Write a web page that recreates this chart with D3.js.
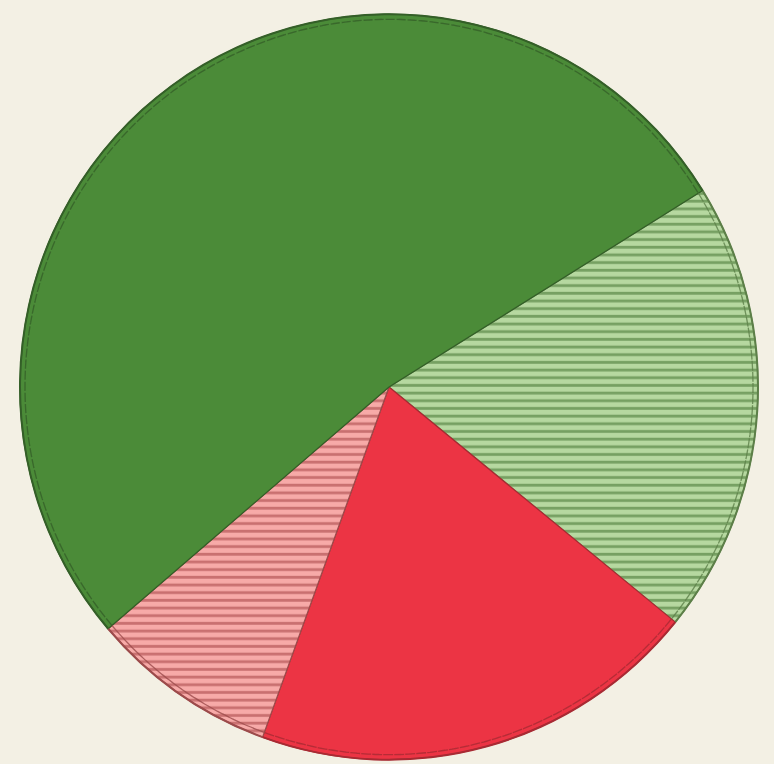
<!DOCTYPE html>
<html>
<head>
<meta charset="utf-8">
<script src="https://cdn.jsdelivr.net/npm/d3@7"></script>
<style>
  html, body { margin: 0; padding: 0; background: #f3f0e4; }
  svg { display: block; }
</style>
</head>
<body>
<svg id="chart" width="774" height="764"></svg>
<script>
// Data (order clockwise starting from the upper-right boundary)
const categories = ["Segment A", "Segment B", "Segment C", "Segment D"];
const values = [19.7, 19.7, 8.2, 52.4];
const fills = ["url(#stripeGreen)", "#ec3444", "url(#stripePink)", "#4b8b38"];
const edgeColors = ["#5c7f48", "#a82a33", "#9c4b4b", "#345f28"];

const svg = d3.select("#chart");
const cx = 389, cy = 387, r = 369;
const startDeg = 58.2;

const defs = svg.append("defs");
function stripe(id, light, dark) {
  const p = defs.append("pattern")
    .attr("id", id).attr("patternUnits", "userSpaceOnUse")
    .attr("width", 8).attr("height", 7.6);
  p.append("rect").attr("width", 8).attr("height", 7.6).attr("fill", light);
  p.append("rect").attr("y", 4.6).attr("width", 8).attr("height", 2.8).attr("fill", dark);
}
stripe("stripeGreen", "#b6d8a0", "#76a062");
stripe("stripePink", "#f7aaa8", "#c97070");

const g = svg.append("g").attr("transform", `translate(${cx},${cy}) scale(1,1.01)`);

const pie = d3.pie().sort(null)
  .startAngle(startDeg * Math.PI / 180)
  .endAngle(startDeg * Math.PI / 180 + 2 * Math.PI);
const arcs = pie(values);
const arc = d3.arc().innerRadius(0).outerRadius(r);

g.selectAll("path.slice").data(arcs).join("path")
  .attr("class", "slice")
  .attr("d", arc)
  .attr("fill", (d, i) => fills[i])
  .attr("stroke", (d, i) => edgeColors[i])
  .attr("stroke-width", 1.2)
  .attr("stroke-linejoin", "round");

// outer rim line
const rim = d3.arc().innerRadius(r - 1).outerRadius(r + 1);
g.selectAll("path.rim").data(arcs).join("path")
  .attr("class", "rim")
  .attr("d", rim)
  .attr("fill", (d, i) => edgeColors[i]);

// inner dashed line near the edge
g.selectAll("path.dash").data(arcs).join("path")
  .attr("class", "dash")
  .attr("d", d => d3.arc()({innerRadius: r - 5, outerRadius: r - 5, startAngle: d.startAngle, endAngle: d.endAngle}))
  .attr("fill", "none")
  .attr("stroke", (d, i) => edgeColors[i])
  .attr("stroke-opacity", 0.8)
  .attr("stroke-width", 1.3)
  .attr("stroke-dasharray", "7,4");
</script>
</body>
</html>
